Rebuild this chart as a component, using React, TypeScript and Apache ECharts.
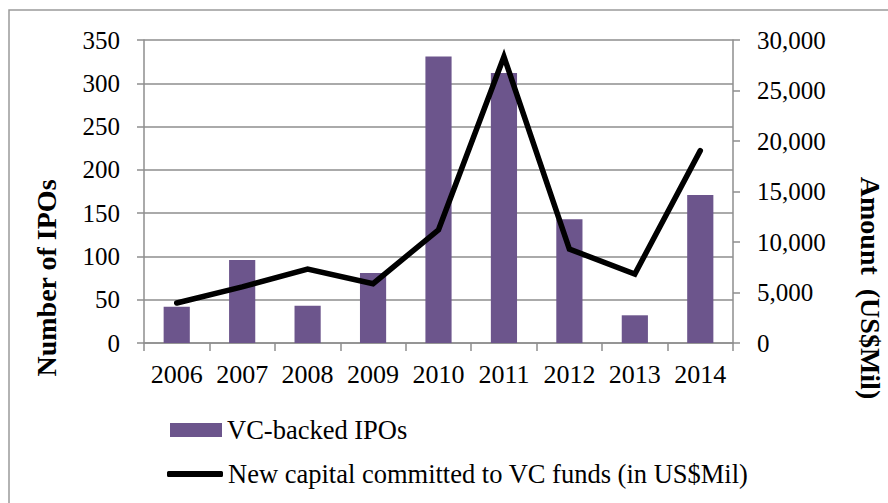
import React, { useEffect, useRef } from "react";
import * as echarts from "echarts";

const years = ["2006", "2007", "2008", "2009", "2010", "2011", "2012", "2013", "2014"];
const vcBackedIpos = [42, 96, 43, 81, 331, 312, 143, 32, 171];
const newCapital = [3960, 5550, 7320, 5870, 11210, 28350, 9300, 6830, 19050];
const leftTicks = { min: 0, max: 350, interval: 50 };
const rightTicks = { min: 0, max: 30000, interval: 5000 };

const FONT = "Liberation Serif";
const GRAY = "#8e8e8e";

export default function App() {
  const ref = useRef<HTMLDivElement>(null);
  useEffect(() => {
    if (!ref.current) return;
    const chart = echarts.init(ref.current, undefined, { renderer: "svg" });
    chart.setOption({
      animation: false,
      backgroundColor: "#ffffff",
      textStyle: { fontFamily: FONT, color: "#000" },
      grid: { left: 144, right: 155, top: 40, bottom: 160, containLabel: false },
      xAxis: {
        type: "category",
        data: years,
        boundaryGap: true,
        axisLine: { show: true, lineStyle: { color: GRAY, width: 1.5 } },
        axisTick: { show: true, length: 8, interval: 0, lineStyle: { color: GRAY, width: 1.5 } },
        axisLabel: {
          color: "#000",
          fontFamily: FONT,
          fontSize: 26,
          margin: 18,
          interval: 0,
          hideOverlap: false,
        },
        splitLine: { show: false },
      },
      yAxis: [
        {
          type: "value",
          min: leftTicks.min,
          max: leftTicks.max,
          interval: leftTicks.interval,
          axisLine: { show: true, lineStyle: { color: GRAY, width: 1.5 } },
          axisTick: { show: true, length: 7, lineStyle: { color: GRAY, width: 1.5 } },
          axisLabel: { color: "#000", fontFamily: FONT, fontSize: 25, margin: 24 },
          splitLine: { show: true, lineStyle: { color: GRAY, width: 1.5 } },
        },
        {
          type: "value",
          min: rightTicks.min,
          max: rightTicks.max,
          interval: rightTicks.interval,
          position: "right",
          axisLine: { show: true, lineStyle: { color: GRAY, width: 1.5 } },
          axisTick: { show: true, length: 7, lineStyle: { color: GRAY, width: 1.5 } },
          axisLabel: {
            color: "#000",
            fontFamily: FONT,
            fontSize: 25,
            margin: 24,
            formatter: (v: number) => v.toLocaleString("en-US"),
          },
          splitLine: { show: false },
        },
      ],
      legend: [
        {
          data: [{ name: "VC-backed IPOs", icon: "rect" }],
          left: 170,
          top: 415,
          padding: 0,
          itemWidth: 52,
          itemHeight: 14,
          itemGap: 0,
          textStyle: { color: "#000", fontFamily: FONT, fontSize: 26.5, lineHeight: 30 },
        },
        {
          data: [{ name: "New capital committed to VC funds (in US$Mil)", icon: "roundRect" }],
          left: 167,
          top: 459,
          padding: 0,
          itemWidth: 56,
          itemHeight: 6,
          itemGap: 0,
          itemStyle: { color: "#000", borderWidth: 0 },
          textStyle: { color: "#000", fontFamily: FONT, fontSize: 26.5, lineHeight: 30 },
        },
      ],
      graphic: [
        {
          type: "rect",
          shape: { x: 9, y: 10, width: 900, height: 520 },
          style: { fill: "none", stroke: "#9a9a9a", lineWidth: 1.5 },
          silent: true,
        },
        {
          type: "text",
          x: 46,
          y: 278,
          rotation: Math.PI / 2,
          style: {
            text: "Number of IPOs",
            fontFamily: FONT,
            fontSize: 28,
            fontWeight: "bold",
            fill: "#000",
            textAlign: "center",
            textVerticalAlign: "middle",
          },
        },
        {
          type: "text",
          x: 870,
          y: 288,
          rotation: -Math.PI / 2,
          style: {
            text: "Amount  (US$Mil)",
            fontFamily: FONT,
            fontSize: 28,
            fontWeight: "bold",
            fill: "#000",
            textAlign: "center",
            textVerticalAlign: "middle",
          },
        },
      ],
      series: [
        {
          name: "VC-backed IPOs",
          type: "bar",
          data: vcBackedIpos,
          yAxisIndex: 0,
          barWidth: "40%",
          itemStyle: { color: "#6c558c" },
        },
        {
          name: "New capital committed to VC funds (in US$Mil)",
          type: "line",
          data: newCapital,
          yAxisIndex: 1,
          symbol: "none",
          showSymbol: false,
          lineStyle: { color: "#000", width: 5.5, cap: "round", join: "miter" },
          itemStyle: { color: "#000" },
        },
      ],
    });
    return () => chart.dispose();
  }, []);
  return (
    <div
      ref={ref}
      style={{ position: "fixed", left: 0, top: 0, width: 888, height: 503 }}
    />
  );
}
